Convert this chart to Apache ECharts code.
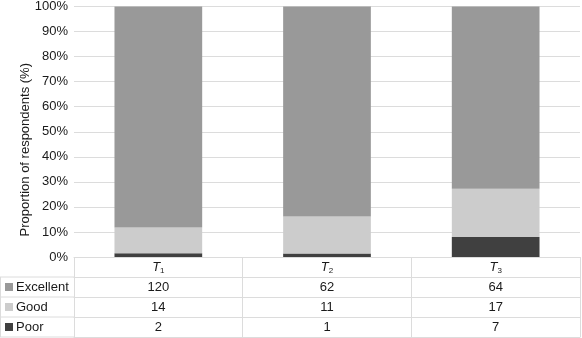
<!DOCTYPE html>
<html><head><meta charset="utf-8">
<script src="https://cdn.jsdelivr.net/npm/echarts@6/dist/echarts.min.js"></script>
<style>html,body{margin:0;padding:0;background:#fff}#c{width:582px;height:338px}</style>
</head><body><div id="c"></div>
<script>
const categories = ['1', '2', '3'];
const seriesNames = ['Excellent', 'Good', 'Poor'];
const excellent = [120, 62, 64];
const good = [14, 11, 17];
const poor = [2, 1, 7];
const yTicks = [0, 10, 20, 30, 40, 50, 60, 70, 80, 90, 100];
const colors = {Excellent: '#999999', Good: '#cccccc', Poor: '#404040'};

const counts = {Excellent: excellent, Good: good, Poor: poor};
const totals = categories.map((_, i) => excellent[i] + good[i] + poor[i]);
const pct = arr => arr.map((v, i) => v / totals[i] * 100);

const FONT = 'Liberation Sans, Arial, sans-serif';
const gridLeft = 74, gridRight = 2, gridTop = 6, gridBottom = 81;
const rowH = 20;
const lineColor = '#dcdcdc';
const textColor = '#1a1a1a';

const chart = echarts.init(document.getElementById('c'), null, {renderer: 'canvas'});

const rowOrder = ['Excellent', 'Good', 'Poor'];
const xAxes = [{
  type: 'category', data: categories, position: 'bottom', offset: 0,
  axisLine: {show: true, lineStyle: {color: lineColor, width: 1}},
  axisTick: {show: true, length: rowH * 4, interval: 0, lineStyle: {color: lineColor}},
  axisLabel: {
    margin: 3, interval: 0,
    formatter: v => '{t|T}{s|' + v + '}',
    rich: {
      t: {fontFamily: FONT, fontSize: 13, fontStyle: 'italic', color: textColor},
      s: {fontFamily: FONT, fontSize: 8, color: textColor, verticalAlign: 'bottom', padding: [7, 0, 0, 0]}
    }
  }
}];
rowOrder.forEach((name, k) => {
  xAxes.push({
    type: 'category', data: counts[name].map(String), position: 'bottom', offset: rowH * (k + 1),
    axisLine: {show: true, lineStyle: {color: lineColor, width: 1}},
    axisTick: {show: false},
    axisLabel: {margin: 4, interval: 0, fontFamily: FONT, fontSize: 13, color: textColor}
  });
});
xAxes.push({
  type: 'category', data: categories, position: 'bottom', offset: rowH * 4,
  axisLine: {show: true, lineStyle: {color: lineColor, width: 1}},
  axisTick: {show: false}, axisLabel: {show: false}
});

const graphics = [];
rowOrder.forEach((name, k) => {
  const yTop = 338 - gridBottom + rowH * (k + 1);
  graphics.push({type: 'line', shape: {x1: 0, y1: yTop, x2: gridLeft, y2: yTop}, style: {stroke: lineColor, lineWidth: 1}});
  graphics.push({type: 'rect', shape: {x: 5, y: yTop + 6, width: 8, height: 8}, style: {fill: colors[name]}});
  graphics.push({type: 'text', x: 16, y: yTop + 10.5, style: {text: name, font: '13px ' + FONT, fill: textColor, textVerticalAlign: 'middle'}});
});
graphics.push({type: 'line', shape: {x1: 0, y1: 338 - gridBottom + rowH * 4, x2: gridLeft, y2: 338 - gridBottom + rowH * 4}, style: {stroke: lineColor, lineWidth: 1}});
graphics.push({type: 'line', shape: {x1: 0.5, y1: 338 - gridBottom + rowH, x2: 0.5, y2: 338 - gridBottom + rowH * 4}, style: {stroke: lineColor, lineWidth: 1}});

const series = ['Poor', 'Good', 'Excellent'].map(name => ({
  name, type: 'bar', stack: 'all', xAxisIndex: 0, barWidth: '52%',
  data: pct(counts[name]),
  itemStyle: {color: colors[name]},
  emphasis: {disabled: true}
}));

chart.setOption({
  animation: false,
  grid: {left: gridLeft, right: gridRight, top: gridTop, bottom: gridBottom, containLabel: false},
  xAxis: xAxes,
  yAxis: {
    type: 'value', min: yTicks[0], max: yTicks[yTicks.length - 1], interval: yTicks[1] - yTicks[0],
    name: 'Proportion of respondents (%)', nameLocation: 'middle', nameGap: 42, nameMoveOverlap: false,
    nameTextStyle: {fontFamily: FONT, fontSize: 13, color: textColor, padding: [0, 36, 0, 0]},
    axisLine: {show: false}, axisTick: {show: false},
    axisLabel: {formatter: '{value}%', fontFamily: FONT, fontSize: 13, color: textColor, margin: 6},
    splitLine: {show: true, lineStyle: {color: lineColor, width: 1}}
  },
  series,
  graphic: graphics
});
</script></body></html>
